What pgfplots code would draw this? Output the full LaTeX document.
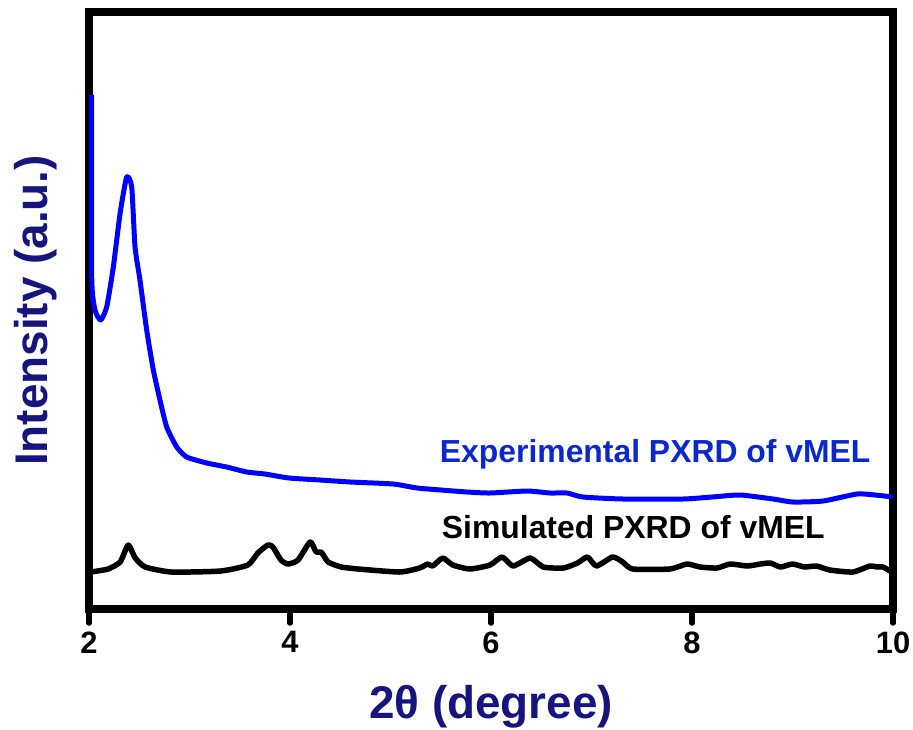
\documentclass[border=0pt]{standalone}
\usepackage{fontspec}
\setmainfont{Liberation Sans}
\usepackage{pgfplots}
\pgfplotsset{compat=1.18}

\definecolor{labnavy}{RGB}{22,20,125}
\definecolor{expblue}{RGB}{0,0,255}
\definecolor{exptext}{RGB}{10,40,205}

\begin{document}
\begin{tikzpicture}
\begin{axis}[
  scale only axis,
  width=804bp, height=597bp,
  xmin=2, xmax=10, ymin=0, ymax=597,
  xtick={2,4,6,8,10},
  ytick=\empty,
  xtick pos=bottom,
  tick align=outside,
  major tick length=14bp,
  every tick/.style={black, line width=5.5bp, line cap=round},
  axis line style={line width=7.5bp},
  /pgf/number format/assume math mode=true,
  xticklabel style={font=\fontsize{31}{37}\selectfont\bfseries, yshift=-5bp},
  xlabel={2θ (degree)},
  ylabel={Intensity (a.u.)},
  label style={font=\fontsize{46}{54}\selectfont\bfseries, text=labnavy},
  xlabel style={at={(rel axis cs:0.5,0)}, anchor=base, yshift=-109bp},
  ylabel style={at={(rel axis cs:0,0.5)}, anchor=base, yshift=41bp},
  clip=false,
]
% experimental pattern
\addplot[expblue, line width=5bp, line join=round, smooth, tension=0.35] coordinates {
  (2.027,514) (2.027,332) (2.06,299) (2.116,289) (2.176,302) (2.242,342)
  (2.31,396) (2.375,432) (2.425,422) (2.458,362) (2.507,329) (2.574,279)
  (2.64,239) (2.706,209) (2.773,182) (2.873,162) (2.972,152) (3.171,146)
  (3.37,142) (3.569,137) (3.75,135) (3.99,131) (4.3,129) (4.597,127)
  (5.025,125) (5.264,121) (5.5,119) (5.761,117) (5.99,116) (6.358,118)
  (6.587,116) (6.756,116) (6.915,112) (7.313,110) (7.91,110) (8.2,112)
  (8.478,114) (8.806,110) (9.005,107) (9.303,108) (9.642,115) (9.82,114)
  (10.0,112)
};
% simulated pattern
\addplot[black, line width=5.5bp, line join=round, smooth, tension=0.35] coordinates {
  (2.02,37) (2.19,40) (2.31,47) (2.39,64) (2.46,51) (2.56,42) (2.82,37)
  (3.31,38) (3.58,44) (3.68,56) (3.78,64) (3.83,62) (3.91,49) (3.98,45)
  (4.08,49) (4.2,67) (4.26,57) (4.31,57) (4.38,47) (4.51,42) (4.68,40)
  (5.09,37) (5.29,41) (5.37,45) (5.42,43) (5.52,51) (5.62,44) (5.79,40)
  (5.99,44) (6.11,52) (6.22,43) (6.39,51) (6.52,42) (6.72,41) (6.86,46)
  (6.96,52) (7.05,43) (7.21,52) (7.31,47) (7.41,40) (7.78,40) (7.95,45)
  (8.08,42) (8.25,41) (8.38,45) (8.55,43) (8.68,45) (8.78,46) (8.88,42)
  (9.0,45) (9.12,42) (9.24,43) (9.37,39) (9.6,37) (9.77,43) (9.84,42)
  (9.9,42) (9.97,38)
};
\node[anchor=base west, inner sep=0pt, text=exptext,
      font=\fontsize{32}{38}\selectfont\bfseries] at (axis cs:5.49,147)
  {Experimental PXRD of vMEL};
\node[anchor=base west, inner sep=0pt, text=black,
      font=\fontsize{32}{38}\selectfont\bfseries] at (axis cs:5.51,71)
  {Simulated PXRD of vMEL};
\end{axis}
\pgfresetboundingbox
\path ([shift={(-89bp,-120bp)}]current axis.south west)
  rectangle ([shift={(20bp,12bp)}]current axis.north east);
\end{tikzpicture}
\end{document}
